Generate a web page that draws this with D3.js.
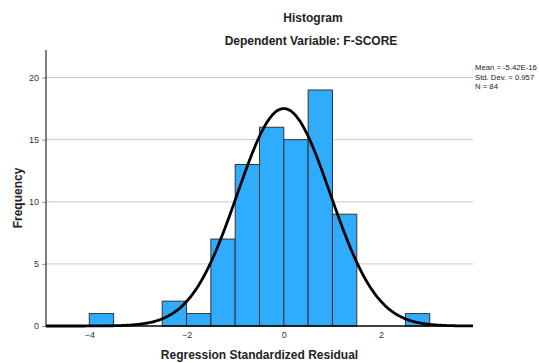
<!DOCTYPE html>
<html><head><meta charset="utf-8">
<script src="https://cdn.jsdelivr.net/npm/d3@7"></script>
<style>body{margin:0;background:#fff;} svg{display:block;font-family:"Liberation Sans",Arial,sans-serif;}</style>
</head><body>
<svg id="c" width="539" height="363"></svg>
<script>
const binStarts = [-4,-3.5,-3,-2.5,-2,-1.5,-1,-0.5,0,0.5,1,1.5,2,2.5];
const counts    = [1,0,0,2,1,7,13,16,15,19,9,0,0,1];
const binWidth = 0.5;
const mean = 0, sd = 0.957, N = 84;
const xTicks = [-4,-2,0,2];
const yTicks = [0,5,10,15,20];
const legendLines = ["Mean = -5.42E-16","Std. Dev. = 0.957","N = 84"];

const svg = d3.select("#c");
const L=46, R=473, T=50, B=326;
const x = d3.scaleLinear().domain([-4.89,3.89]).range([L,R]);
const y = d3.scaleLinear().domain([0,22.22]).range([B,T]);

// gridlines
svg.append("g").selectAll("line").data(yTicks.filter(d=>d>0)).join("line")
  .attr("x1",L).attr("x2",R).attr("y1",d=>y(d)).attr("y2",d=>y(d))
  .attr("stroke","#c8c8c8").attr("stroke-width",1);

// bars
svg.append("g").selectAll("rect").data(binStarts.map((s,i)=>({s,c:counts[i]})).filter(d=>d.c>0)).join("rect")
  .attr("x",d=>x(d.s)).attr("width",d=>x(d.s+binWidth)-x(d.s))
  .attr("y",d=>y(d.c)).attr("height",d=>y(0)-y(d.c))
  .attr("fill","#30acff").attr("stroke","#333").attr("stroke-width",1);

// normal curve
const pts = d3.range(-4.89,3.8901,0.02).map(v=>[v, N*binWidth*Math.exp(-0.5*((v-mean)/sd)**2)/(sd*Math.sqrt(2*Math.PI))]);
svg.append("path").attr("d",d3.line().x(d=>x(d[0])).y(d=>y(d[1])).curve(d3.curveBasis)(pts))
  .attr("fill","none").attr("stroke","#000").attr("stroke-width",2.8);

// axes
const yAx = svg.append("g").attr("transform",`translate(${L},0)`)
  .call(d3.axisLeft(y).tickValues(yTicks).tickSize(4).tickPadding(3));
yAx.select(".domain").remove();
yAx.selectAll(".tick line").attr("stroke","#999");
yAx.selectAll("text").attr("font-size",9).attr("fill","#333").attr("font-family","Liberation Sans, Arial, sans-serif");
const xAx = svg.append("g").attr("transform",`translate(0,${B})`)
  .call(d3.axisBottom(x).tickValues(xTicks).tickSize(0).tickPadding(6));
xAx.select(".domain").remove();
xAx.selectAll("text").attr("font-size",9).attr("fill","#333").attr("font-family","Liberation Sans, Arial, sans-serif");

svg.append("line").attr("x1",L).attr("x2",L).attr("y1",T).attr("y2",B+1).attr("stroke","#000").attr("stroke-width",1);
svg.append("line").attr("x1",L).attr("x2",R).attr("y1",B).attr("y2",B).attr("stroke","#000").attr("stroke-width",1.6);

// titles
svg.append("text").attr("x",313).attr("y",22).attr("text-anchor","middle").attr("font-size",12).attr("font-weight","bold").attr("fill","#222").text("Histogram");
svg.append("text").attr("x",311).attr("y",45).attr("text-anchor","middle").attr("font-size",12).attr("font-weight","bold").attr("fill","#222").text("Dependent Variable: F-SCORE");
svg.append("text").attr("x",(L+R)/2).attr("y",359).attr("text-anchor","middle").attr("font-size",12).attr("font-weight","bold").attr("fill","#222").text("Regression Standardized Residual");
svg.append("text").attr("transform",`translate(22,${(T+B)/2+10}) rotate(-90)`).attr("text-anchor","middle").attr("font-size",12).attr("font-weight","bold").attr("fill","#222").text("Frequency");

// legend
const lg = svg.append("g").selectAll("text").data(legendLines).join("text")
  .attr("x",475).attr("y",(d,i)=>70+i*9.5).attr("font-size",8.5).attr("fill","#222").text(d=>d);
let maxW = 0;
lg.each(function(){ maxW = Math.max(maxW, this.getComputedTextLength()); });
const avail = 539 - 475 - 2;
if (maxW > avail) lg.attr("font-size", 8.5 * avail / maxW);
</script>
</body></html>
